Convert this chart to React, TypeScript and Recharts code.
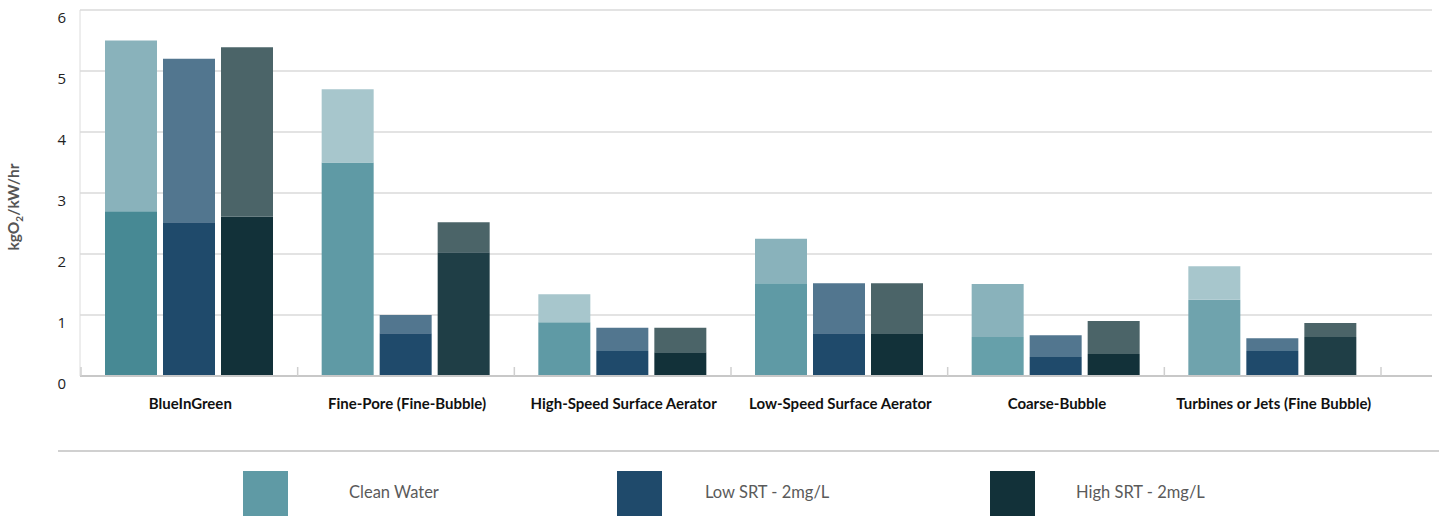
import { BarChart, Bar, XAxis, YAxis, CartesianGrid, Cell } from "recharts";

const categories = [
  "BlueInGreen",
  "Fine-Pore (Fine-Bubble)",
  "High-Speed Surface Aerator",
  "Low-Speed Surface Aerator",
  "Coarse-Bubble",
  "Turbines or Jets (Fine Bubble)",
];

// low / high end of each range, kgO2/kW/hr
const cleanMin = [2.7, 3.5, 0.88, 1.52, 0.64, 1.25];
const cleanMax = [5.5, 4.7, 1.34, 2.25, 1.51, 1.8];
const lowSrtMin = [2.52, 0.7, 0.41, 0.7, 0.31, 0.41];
const lowSrtMax = [5.2, 1.0, 0.79, 1.52, 0.67, 0.62];
const highSrtMin = [2.61, 2.03, 0.39, 0.7, 0.36, 0.64];
const highSrtMax = [5.39, 2.52, 0.79, 1.52, 0.9, 0.87];

const yTicks = [0, 1, 2, 3, 4, 5, 6];

const legendItems = [
  { label: "Clean Water", color: "#5f9aa5", box: 243, text: 349 },
  { label: "Low SRT - 2mg/L", color: "#1f4a6b", box: 617, text: 705 },
  { label: "High SRT - 2mg/L", color: "#123139", box: 990, text: 1076 },
];

const cleanBaseColors = ["#478994", "#5f9aa5", "#5f9aa5", "#5f9aa5", "#66a0aa", "#6fa3ad"];
const cleanTopColors = ["#89b2bb", "#a7c6cc", "#a7c6cc", "#89b2bb", "#89b2bb", "#a7c6cc"];
const highBaseColors = ["#123139", "#1f3e46", "#123139", "#123139", "#123139", "#1f3e46"];

const data = categories.map((name, i) => ({
  name,
  cleanBase: cleanMin[i],
  cleanTop: +(cleanMax[i] - cleanMin[i]).toFixed(3),
  lowBase: lowSrtMin[i],
  lowTop: +(lowSrtMax[i] - lowSrtMin[i]).toFixed(3),
  highBase: highSrtMin[i],
  highTop: +(highSrtMax[i] - highSrtMin[i]).toFixed(3),
}));

const PLOT_LEFT = 80;
const PLOT_BOTTOM = 376;
const BAND = (1380 - PLOT_LEFT) / categories.length;

const CategoryTick = (props: any) => {
  const { x, payload, index } = props;
  return (
    <g>
      <line x1={x - BAND / 2} x2={x - BAND / 2} y1={PLOT_BOTTOM - 9} y2={PLOT_BOTTOM} stroke="#cfcfcf" strokeWidth={1.5} />
      {index === categories.length - 1 && (
        <line x1={x + BAND / 2} x2={x + BAND / 2} y1={PLOT_BOTTOM - 9} y2={PLOT_BOTTOM} stroke="#cfcfcf" strokeWidth={1.5} />
      )}
      <text x={x + 1} y={PLOT_BOTTOM + 33} textAnchor="middle" fontFamily="Lato" fontWeight={700} fontSize={15} fill="#111">
        {payload.value}
      </text>
    </g>
  );
};

const ValueTick = (props: any) => {
  const { y, payload } = props;
  return (
    <text x={66} y={y + 13} textAnchor="end" fontFamily="Open Sans" fontSize={15} fill="#222">
      {payload.value}
    </text>
  );
};

const UnitLabel = () => (
  <text
    x={19}
    y={207}
    transform="rotate(-90 19 207)"
    textAnchor="middle"
    fontFamily="Lato"
    fontWeight={700}
    fontSize={15.5}
    fill="#555"
  >
    kgO<tspan fontSize={10} dy={4}>2</tspan>
    <tspan dy={-4}>/kW/hr</tspan>
  </text>
);

export default function App() {
  return (
    <div style={{ position: "absolute", left: 0, top: 0, width: 1439, height: 531, background: "#fff" }}>
      <BarChart
        width={1439}
        height={531}
        data={data}
        margin={{ top: 10, right: 7, bottom: 115, left: 0 }}
        barSize={52}
        barGap={6}
      >
        <CartesianGrid horizontal vertical={false} stroke="#c8c8c8" strokeWidth={1.2} />
        <XAxis
          dataKey="name"
          height={40}
          interval={0}
          tickLine={false}
          axisLine={{ stroke: "#c8c8c8", strokeWidth: 2 }}
          padding={{ left: 1, right: 51 }}
          tick={<CategoryTick />}
        />
        <YAxis
          width={80}
          domain={[0, 6]}
          ticks={yTicks}
          tickLine={false}
          axisLine={{ stroke: "#dcdcdc" }}
          tick={<ValueTick />}
          label={<UnitLabel />}
        />
        <Bar dataKey="cleanBase" stackId="clean" isAnimationActive={false}>
          {data.map((_, i) => <Cell key={i} fill={cleanBaseColors[i]} />)}
        </Bar>
        <Bar dataKey="cleanTop" stackId="clean" isAnimationActive={false}>
          {data.map((_, i) => <Cell key={i} fill={cleanTopColors[i]} />)}
        </Bar>
        <Bar dataKey="lowBase" stackId="low" fill="#1f4a6b" isAnimationActive={false} />
        <Bar dataKey="lowTop" stackId="low" fill="#52768f" isAnimationActive={false} />
        <Bar dataKey="highBase" stackId="high" isAnimationActive={false}>
          {data.map((_, i) => <Cell key={i} fill={highBaseColors[i]} />)}
        </Bar>
        <Bar dataKey="highTop" stackId="high" fill="#4b6468" isAnimationActive={false} />
      </BarChart>
      <div style={{ position: "absolute", left: 58, top: 450, width: 1381, height: 2, background: "#d0d0d0" }} />
      {legendItems.map((item) => (
        <div key={item.label}>
          <div style={{ position: "absolute", left: item.box, top: 471, width: 45, height: 45, background: item.color }} />
          <div
            style={{
              position: "absolute",
              left: item.text,
              top: 483,
              fontFamily: "Lato",
              fontWeight: 400,
              fontSize: 16.5,
              color: "#5a5a5a",
              lineHeight: "18px",
              whiteSpace: "nowrap",
            }}
          >
            {item.label}
          </div>
        </div>
      ))}
    </div>
  );
}
